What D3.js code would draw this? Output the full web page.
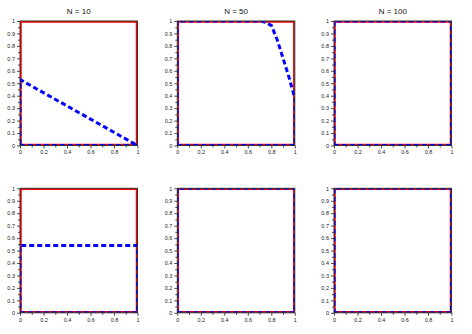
<!DOCTYPE html>
<html>
<head>
<meta charset="utf-8">
<script src="https://cdn.jsdelivr.net/npm/d3@7"></script>
<style>
  body { margin: 0; background: #fff; }
  .tick text { font-family: 'Liberation Sans', Arial, sans-serif; font-size: 5.5px; fill: #222; }
  .axis path { display: none; }
  .axis line { stroke: #222; stroke-width: 0.8; }
  .title { font-family: 'Liberation Sans', Arial, sans-serif; font-size: 8px; fill: #111; }
</style>
</head>
<body>
<div id="chart"></div>
<script>
'use strict';

// panel titles (top row only)
var titles = [ 'N = 10', 'N = 50', 'N = 100', '', '', '' ];

// red reference curve, same in every panel
var refX = [ 0, 1, 1, 0, 0 ];
var refY = [ 0, 0, 1, 1, 0 ];

// blue dashed estimate per panel
var estX = [
  [ 0, 1, 0, 0 ],
  [ 0, 1, 1, 0.95, 0.9, 0.85, 0.8, 0.72, 0, 0 ],
  [ 0, 1, 1, 0, 0 ],
  [ 0, 1, 1, 0, 0 ],
  [ 0, 1, 1, 0, 0 ],
  [ 0, 1, 1, 0, 0 ]
];
var estY = [
  [ 0, 0, 0.53, 0 ],
  [ 0, 0, 0.38, 0.55, 0.7, 0.85, 0.965, 1, 1, 0 ],
  [ 0, 0, 1, 1, 0 ],
  [ 0, 0, 0.54, 0.54, 0 ],
  [ 0, 0, 1, 1, 0 ],
  [ 0, 0, 1, 1, 0 ]
];

var yTicks = [ 0, 0.1, 0.2, 0.3, 0.4, 0.5, 0.6, 0.7, 0.8, 0.9, 1 ];
var yMinor = [ 0.05, 0.15, 0.25, 0.35, 0.45, 0.55, 0.65, 0.75, 0.85, 0.95 ];
var xTicks = [ 0, 0.2, 0.4, 0.6, 0.8, 1 ];
var xMinor = [ 0.1, 0.3, 0.5, 0.7, 0.9 ];

var width = 472,
    height = 334,
    colLeft = [ 20, 177.3, 334 ],
    rowTop = [ 21, 188.3 ],
    plotW = 117.5,
    plotH = 124.5;

var svg = d3.select( '#chart' )
  .append( 'svg' )
    .attr( 'width', width )
    .attr( 'height', height );

var line = d3.line()
  .x( function( d ) { return d[0]; } )
  .y( function( d ) { return d[1]; } );

function toPoints( xs, ys, x, y ) {
  return xs.map( function( v, i ) { return [ x( v ), y( ys[i] ) ]; } );
}

titles.forEach( function( title, i ) {
  var left = colLeft[i % 3],
      top = rowTop[Math.floor( i / 3 )];

  var x = d3.scaleLinear().domain( [ 0, 1 ] ).range( [ 0, plotW ] );
  var y = d3.scaleLinear().domain( [ 0, 1 ] ).range( [ plotH, 0 ] );

  var g = svg.append( 'g' )
    .attr( 'transform', 'translate(' + left + ',' + top + ')' );

  g.append( 'clipPath' )
      .attr( 'id', 'clip' + i )
    .append( 'rect' )
      .attr( 'width', plotW )
      .attr( 'height', plotH );

  var plot = g.append( 'g' ).attr( 'clip-path', 'url(#clip' + i + ')' );

  plot.append( 'path' )
    .attr( 'd', line( toPoints( refX, refY, x, y ) ) )
    .attr( 'fill', 'none' )
    .attr( 'stroke', '#ff0000' )
    .attr( 'stroke-width', 3.5 );

  plot.append( 'path' )
    .attr( 'd', line( toPoints( estX[i], estY[i], x, y ) ) )
    .attr( 'fill', 'none' )
    .attr( 'stroke', '#0000ff' )
    .attr( 'stroke-width', 3 )
    .attr( 'stroke-dasharray', '5,3' );

  // frame
  g.append( 'rect' )
    .attr( 'width', plotW )
    .attr( 'height', plotH )
    .attr( 'fill', 'none' )
    .attr( 'stroke', '#333' )
    .attr( 'stroke-width', 1 );

  // y axis
  g.append( 'g' )
    .classed( 'axis', true )
    .call( d3.axisLeft( y )
      .tickValues( yTicks )
      .tickSize( 3 )
      .tickPadding( 2 )
      .tickFormat( d3.format( '' ) ) );

  g.append( 'g' )
    .classed( 'axis', true )
    .call( d3.axisLeft( y )
      .tickValues( yMinor )
      .tickSize( 2 )
      .tickFormat( function() { return ''; } ) );

  // x axis
  g.append( 'g' )
    .classed( 'axis', true )
    .attr( 'transform', 'translate(0,' + plotH + ')' )
    .call( d3.axisBottom( x )
      .tickValues( xTicks )
      .tickSize( 3 )
      .tickPadding( 2 )
      .tickFormat( d3.format( '' ) ) );

  g.append( 'g' )
    .classed( 'axis', true )
    .attr( 'transform', 'translate(0,' + plotH + ')' )
    .call( d3.axisBottom( x )
      .tickValues( xMinor )
      .tickSize( 2 )
      .tickFormat( function() { return ''; } ) );

  if ( title ) {
    g.append( 'text' )
      .classed( 'title', true )
      .attr( 'x', plotW / 2 )
      .attr( 'y', -7.5 )
      .attr( 'text-anchor', 'middle' )
      .text( title );
  }
} );
</script>
</body>
</html>
